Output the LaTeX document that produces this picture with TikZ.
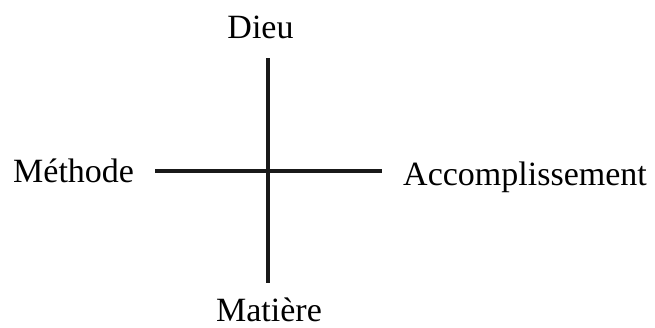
\documentclass[tikz,border=0pt]{standalone}
\usepackage{fontspec}
\setmainfont{Liberation Serif}
\begin{document}
\begin{tikzpicture}[x=1pt,y=-1pt,
  lbl/.style={inner sep=0pt,font=\fontsize{34}{40}\selectfont},
  axis/.style={line width=3.2pt,black!90}]
\useasboundingbox (0,0) rectangle (655,327);
\node[lbl,anchor=base] (dieu) at (260.5,38) {Dieu};
\node[lbl,anchor=base west] (meth) at (13,182) {Méthode};
\node[lbl,anchor=base west] (acc) at (403,185) {Accomplissement};
\node[lbl,anchor=base] (mat) at (269,321) {Matière};
\coordinate (top) at (268,58);
\coordinate (bot) at (268,283);
\coordinate (lft) at (155,171);
\coordinate (rgt) at (382,171);
\draw[axis] (top) -- (bot);
\draw[axis] (lft) -- (rgt);
\end{tikzpicture}
\end{document}
